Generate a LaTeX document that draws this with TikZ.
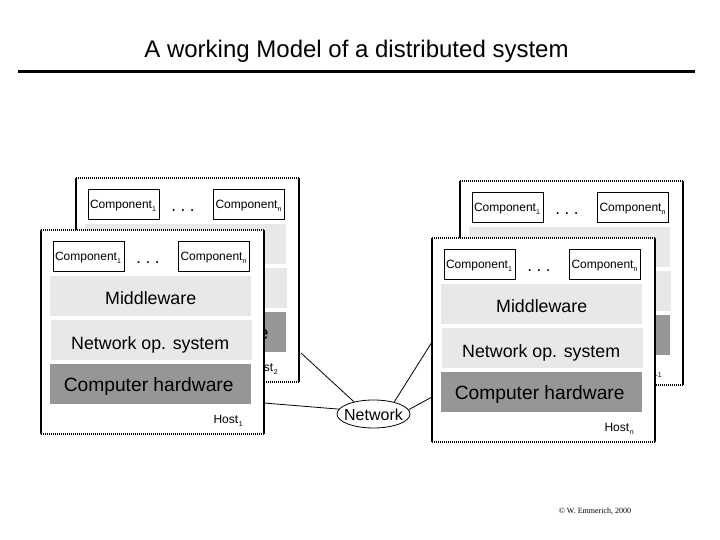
\documentclass[tikz,border=0pt]{standalone}
\usepackage{fontspec}
\setmainfont{Liberation Sans}
\newfontfamily\serifcredit{Liberation Serif}
\usetikzlibrary{shapes.geometric}
\definecolor{softgray}{HTML}{E8E8E8}
\definecolor{hwgray}{HTML}{969696}
\newcommand{\fs}[1]{\fontsize{#1}{#1}\selectfont}
\newcommand{\idx}[1]{\raisebox{-3pt}{\fs{7}#1}}
\newcommand{\setlow}[2]{\raisebox{-#1pt}[0pt][0pt]{\makebox[0pt]{#2}}}
\tikzset{
  framebox/.style={fill=white,minimum width=223pt,minimum height=204pt,inner sep=0pt,outer sep=0pt,anchor=north west},
  frameside/.style={line width=2pt,black},
  frameedge/.style={line width=2pt,black,dash pattern=on 1pt off 1pt},
  compbox/.style={draw=black,line width=0.9pt,fill=white,minimum width=71pt,minimum height=30pt,inner sep=0pt,font=\fs{12}},
  layerbox/.style={minimum width=201pt,minimum height=40pt,inner sep=0pt,anchor=north west},
  midlayer/.style={layerbox,fill=softgray,font=\fs{17.8}},
  hwlayer/.style={layerbox,fill=hwgray,font=\fs{19.2}},
  dotsnode/.style={inner sep=0pt,font=\fs{17}},
  hostlabel/.style={inner sep=0pt,anchor=base east,font=\fs{12}},
  link/.style={draw=black,line width=0.8pt},
  netnode/.style={ellipse,draw=black,line width=0.8pt,fill=white,minimum width=73pt,minimum height=28pt,inner sep=0pt,font=\fs{16}}
}
% #1 prefix, #2 x, #3 y, #4 host index, #5 middleware text, #6 network os text, #7 hardware text
\newcommand{\hostcard}[7]{%
  \begin{scope}[shift={(#2,#3)}]
    \node[framebox] (#1f) at (0,0) {};
    \draw[frameedge] (#1f.north west) -- (#1f.north east);
    \draw[frameedge] (#1f.south west) -- (#1f.south east);
    \draw[frameside] (#1f.north west) -- (#1f.south west);
    \draw[frameside] (#1f.north east) -- (#1f.south east);
    \node[compbox] (#1a) at (47.5,26) {\setlow{4.5}{\kern-1pt Component\idx{1}}};
    \node[compbox] (#1b) at (173,26) {\setlow{4.5}{\kern-1pt Component\idx{n}}};
    \node[dotsnode] (#1d) at (107,33) {.\kern4.6pt.\kern4.6pt.};
    \node[midlayer] (#1m) at (9,46) {\setlow{8}{#5}};
    \node[midlayer] (#1o) at (10,90) {\setlow{9}{\kern-3pt #6}};
    \node[hwlayer] (#1h) at (9,134) {\setlow{7}{\kern-4pt #7}};
    \node[hostlabel] (#1l) at (202,193) {Host\kern.7pt\idx{#4}};
  \end{scope}}
\begin{document}
\begin{tikzpicture}[x=1pt,y=-1pt]
  \useasboundingbox (0,0) rectangle (720,540);
  \fill[white] (0,0) rectangle (720,540);
  \node[inner sep=0pt,font=\fs{24}] (title) at (356.5,51) {A working Model of a distributed system};
  \coordinate (ruleL) at (18,72);
  \coordinate (ruleR) at (695,72);
  \draw[line width=3pt] (ruleL) -- (ruleR);

  \hostcard{b}{76}{178}{2}{}{}{Computer hardware}
  \hostcard{c}{460}{181}{n-1}{}{}{}

  \node[netnode] (net) at (373.5,414) {\setlow{6}{Network}};
  \coordinate (j2) at (301,353);
  \coordinate (j1) at (264,403);
  \coordinate (jm) at (432,342);
  \coordinate (jn) at (432,397);
  \draw[link] (net.148) -- (j2);
  \draw[link] (net.172) -- (j1);
  \draw[link] (net.30) -- (jm);
  \draw[link] (net.7) -- (jn);

  \hostcard{a}{41}{230}{1}{Middleware}{Network op. system}{Computer hardware}
  \hostcard{d}{432}{238}{n}{Middleware}{Network op. system}{Computer hardware}

  \node[inner sep=0pt,font=\serifcredit\fs{8}] (credit) at (595,511) {© W. Emmerich, 2000};
\end{tikzpicture}
\end{document}
